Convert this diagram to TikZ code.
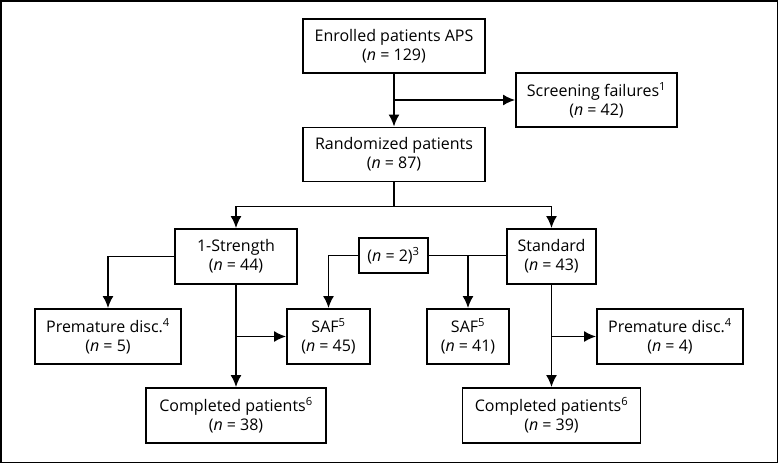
\documentclass[tikz,border=0pt]{standalone}
\usepackage{fontspec}
\setmainfont{Open Sans}
\usetikzlibrary{arrows.meta}

\begin{document}
\begin{tikzpicture}[x=1pt, y=-1pt, line width=1.8pt,
    box/.style={draw, align=center, inner sep=0pt, minimum height=55pt,
      font=\fontsize{16}{19}\selectfont},
    arr/.style={-{Latex[length=12pt,width=11pt]}}]
  \useasboundingbox (0,0) rectangle (778,463);
  \draw[line width=1.5pt] (0.75,0.75) rectangle (777.25,462.25);
  % top part
  \node[box, minimum width=182pt, minimum height=54pt] (enr) at (394,46) {Enrolled patients APS\\(\textit{n} = 129)};
  \node[box, minimum width=161pt, minimum height=54pt] (scr) at (596.5,100) {Screening failures\textsuperscript{1}\\(\textit{n} = 42)};
  \node[box, minimum width=182pt, minimum height=54pt] (ran) at (394,154.5) {Randomized patients\\(\textit{n} = 87)};
  % arms
  \node[box, minimum width=122pt] (str) at (236,256.5) {1-Strength\\(\textit{n} = 44)};
  \node[box, minimum width=69pt, minimum height=35pt] (n2) at (393.5,255.5) {(\textit{n} = 2)\textsuperscript{3}};
  \node[box, minimum width=89pt] (std) at (551.5,256.5) {Standard\\(\textit{n} = 43)};
  \node[box, minimum width=146pt] (pdl) at (108,336.5) {Premature disc.\textsuperscript{4}\\(\textit{n} = 5)};
  \node[box, minimum width=83pt] (safl) at (328.5,336.5) {SAF\textsuperscript{5}\\(\textit{n} = 45)};
  \node[box, minimum width=82pt] (safr) at (468,336.5) {SAF\textsuperscript{5}\\(\textit{n} = 41)};
  \node[box, minimum width=146pt] (pdr) at (670,336.5) {Premature disc.\textsuperscript{4}\\(\textit{n} = 4)};
  \node[box, minimum width=180pt] (cpl) at (236,415.5) {Completed patients\textsuperscript{6}\\(\textit{n} = 38)};
  \node[box, minimum width=178pt] (cpr) at (551.5,415.5) {Completed patients\textsuperscript{6}\\(\textit{n} = 39)};

  \draw[arr] (enr) -- (ran);
  \draw[arr] (enr.south |- scr.west) -- (scr.west);
  \draw[arr] (ran.south) -- ++(0,24) coordinate (split) -| (str.north);
  \draw[arr] (split) -| (std.north);
  \draw[arr] (str.west) -| (pdl.north);
  \draw[arr] (str) -- (cpl);
  \draw[arr] (str.south |- safl.west) -- (safl.west);
  \draw[arr] (n2.west) -| (safl.north);
  \draw (n2.east) -- (n2.east -| std.west);
  \draw[arr] (n2.east -| safr.north) -- (safr.north);
  \draw[arr] (std) -- (cpr);
  \draw[arr] (std.south |- pdr.west) -- (pdr.west);
\end{tikzpicture}
\end{document}
